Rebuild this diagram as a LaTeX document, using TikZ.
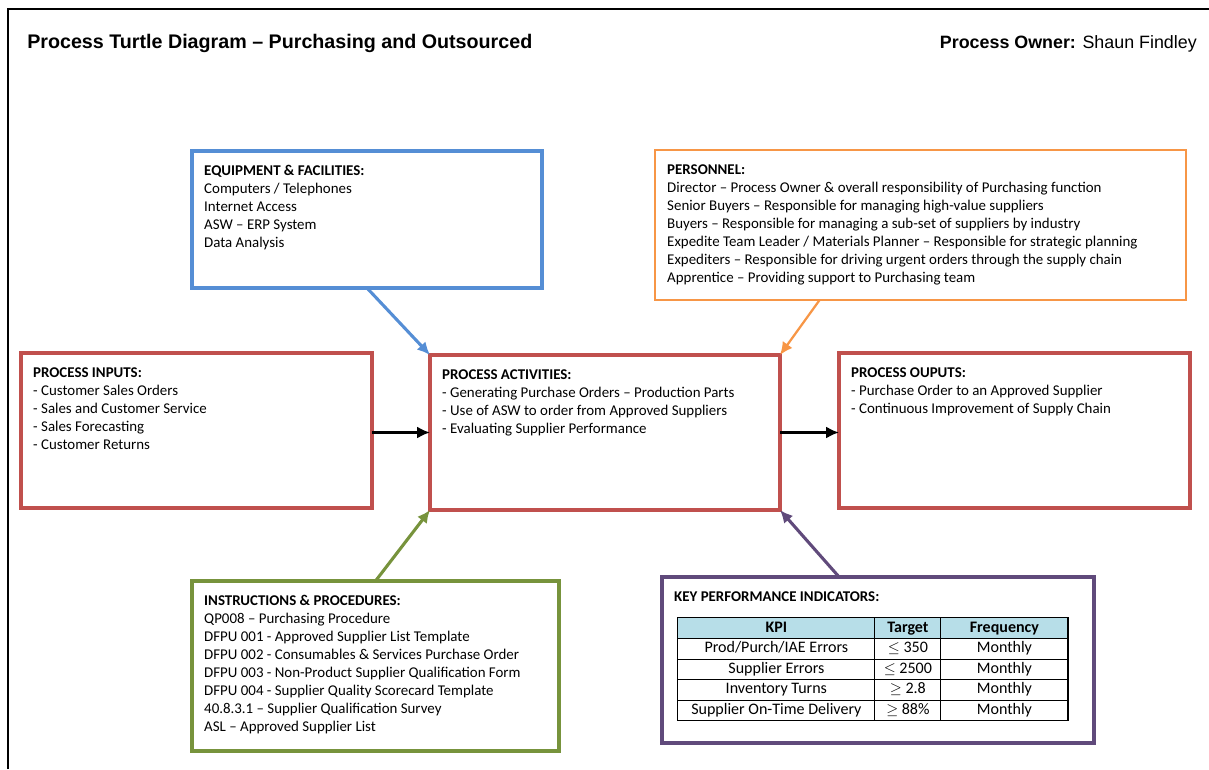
\documentclass[tikz,border=0pt]{standalone}
\usepackage{fontspec}
\setmainfont{Carlito}
\newfontfamily\headfont{Liberation Sans}
\usetikzlibrary{positioning,fit,calc,matrix,arrows.meta}
\definecolor{boxred}{HTML}{C0504D}
\definecolor{boxblue}{HTML}{558ED5}
\definecolor{boxorange}{HTML}{F79646}
\definecolor{boxgreen}{HTML}{77933C}
\definecolor{boxpurple}{HTML}{604A7B}
\definecolor{kpihead}{HTML}{B7DEE8}
\tikzset{box/.style={draw=#1,line width=2.2pt,inner sep=0pt,outer sep=0pt}}
\tikzset{boxtext/.style={anchor=north west,align=left,inner xsep=8.5pt,inner ysep=10pt,font=\fontsize{10.6}{12.8}\selectfont}}
\tikzset{link/.style={draw=#1,line width=2.2pt,-{Latex[length=3.2mm,width=3mm]}}}
\tikzset{kpicell/.style={draw,line width=0.8pt,anchor=center,minimum height=0.515cm,text height=1.6ex,text depth=0.45ex,inner sep=0pt,font=\fontsize{11.4}{12}\selectfont}}

\begin{document}
\begin{tikzpicture}[x=0.025cm,y=-0.025cm]
    \useasboundingbox (0,0) rectangle (1209,769);
    \draw[line width=1.5pt] (8,769) -- (8,9) -- (1209,9);

    \node[anchor=west,inner sep=0pt,font=\headfont\bfseries\fontsize{14}{16}\selectfont] (title) at (27,43) {Process Turtle Diagram – Purchasing and Outsourced};
    \node[anchor=east,inner sep=0pt,font=\headfont\fontsize{12.7}{15}\selectfont] (owner) at (1197,44) {\textbf{Process Owner:} Shaun Findley};

    % the six boxes
    \node[box=boxblue,fit={(192,151) (542,288)}] (equip) {};
    \node[box=boxorange,line width=1.6pt,fit={(655,150) (1186,300)}] (pers) {};
    \node[box=boxred,fit={(21,353) (372,508)}] (inp) {};
    \node[box=boxred,fit={(430,355) (780,510)}] (act) {};
    \node[box=boxred,fit={(839,353) (1190,508)}] (out) {};
    \node[box=boxgreen,fit={(192,581) (559,751)}] (instr) {};
    \node[box=boxpurple,fit={(662,577) (1094,743)}] (kpi) {};

    \node[boxtext] (equiptext) at (equip.north west) {\textbf{EQUIPMENT \& FACILITIES:}\\
        Computers / Telephones\\Internet Access\\ASW – ERP System\\Data Analysis};
    \node[boxtext] (perstext) at (pers.north west) {\textbf{PERSONNEL:}\\
        Director – Process Owner \& overall responsibility of Purchasing function\\
        Senior Buyers – Responsible for managing high-value suppliers\\
        Buyers – Responsible for managing a sub-set of suppliers by industry\\
        Expedite Team Leader / Materials Planner – Responsible for strategic planning\\
        Expediters – Responsible for driving urgent orders through the supply chain\\
        Apprentice – Providing support to Purchasing team};
    \node[boxtext] (inptext) at (inp.north west) {\textbf{PROCESS INPUTS:}\\
        - Customer Sales Orders\\- Sales and Customer Service\\- Sales Forecasting\\- Customer Returns};
    \node[boxtext] (acttext) at (act.north west) {\textbf{PROCESS ACTIVITIES:}\\
        - Generating Purchase Orders – Production Parts\\
        - Use of ASW to order from Approved Suppliers\\
        - Evaluating Supplier Performance};
    \node[boxtext] (outtext) at (out.north west) {\textbf{PROCESS OUPUTS:}\\
        - Purchase Order to an Approved Supplier\\
        - Continuous Improvement of Supply Chain};
    \node[boxtext] (instrtext) at (instr.north west) {\textbf{INSTRUCTIONS \& PROCEDURES:}\\
        QP008 – Purchasing Procedure\\
        DFPU 001 - Approved Supplier List Template\\
        DFPU 002 - Consumables \& Services Purchase Order\\
        DFPU 003 - Non-Product Supplier Qualification Form\\
        DFPU 004 - Supplier Quality Scorecard Template\\
        40.8.3.1 – Supplier Qualification Survey\\
        ASL – Approved Supplier List};
    \node[boxtext] (kpitext) at (kpi.north west) {\textbf{KEY PERFORMANCE INDICATORS:}};

    % KPI table
    \matrix[matrix of nodes,anchor=north west,inner sep=0pt,
        column sep=-0.8pt,row sep=-0.8pt,
        nodes={kpicell},
        column 1/.style={nodes={minimum width=4.925cm}},
        column 2/.style={nodes={minimum width=1.65cm}},
        column 3/.style={nodes={minimum width=3.175cm}},
        row 1/.style={nodes={fill=kpihead,font=\fontsize{11.4}{12}\selectfont\bfseries}}]
        (kpitab) at (677,617) {
        KPI & Target & Frequency\\
        Prod/Purch/IAE Errors & $\leq$ 350 & Monthly\\
        Supplier Errors & $\leq$ 2500 & Monthly\\
        Inventory Turns & $\geq$ 2.8 & Monthly\\
        Supplier On-Time Delivery & $\geq$ 88\% & Monthly\\
    };

    % arrows into the activities
    \draw[link=black] (inp.east |- act.west) -- (act.west);
    \draw[link=black] (act.east) -- (act.east -| out.west);
    \draw[link=boxblue] (equip.south) -- (act.north west);
    \draw[link=boxorange,line width=1.6pt] ($(pers.south west)!0.31!(pers.south east)$) -- (act.north east);
    \draw[link=boxgreen] (instr.north) -- (act.south west);
    \draw[link=boxpurple] ($(kpi.north west)!0.41!(kpi.north east)$) -- (act.south east);
\end{tikzpicture}
\end{document}
